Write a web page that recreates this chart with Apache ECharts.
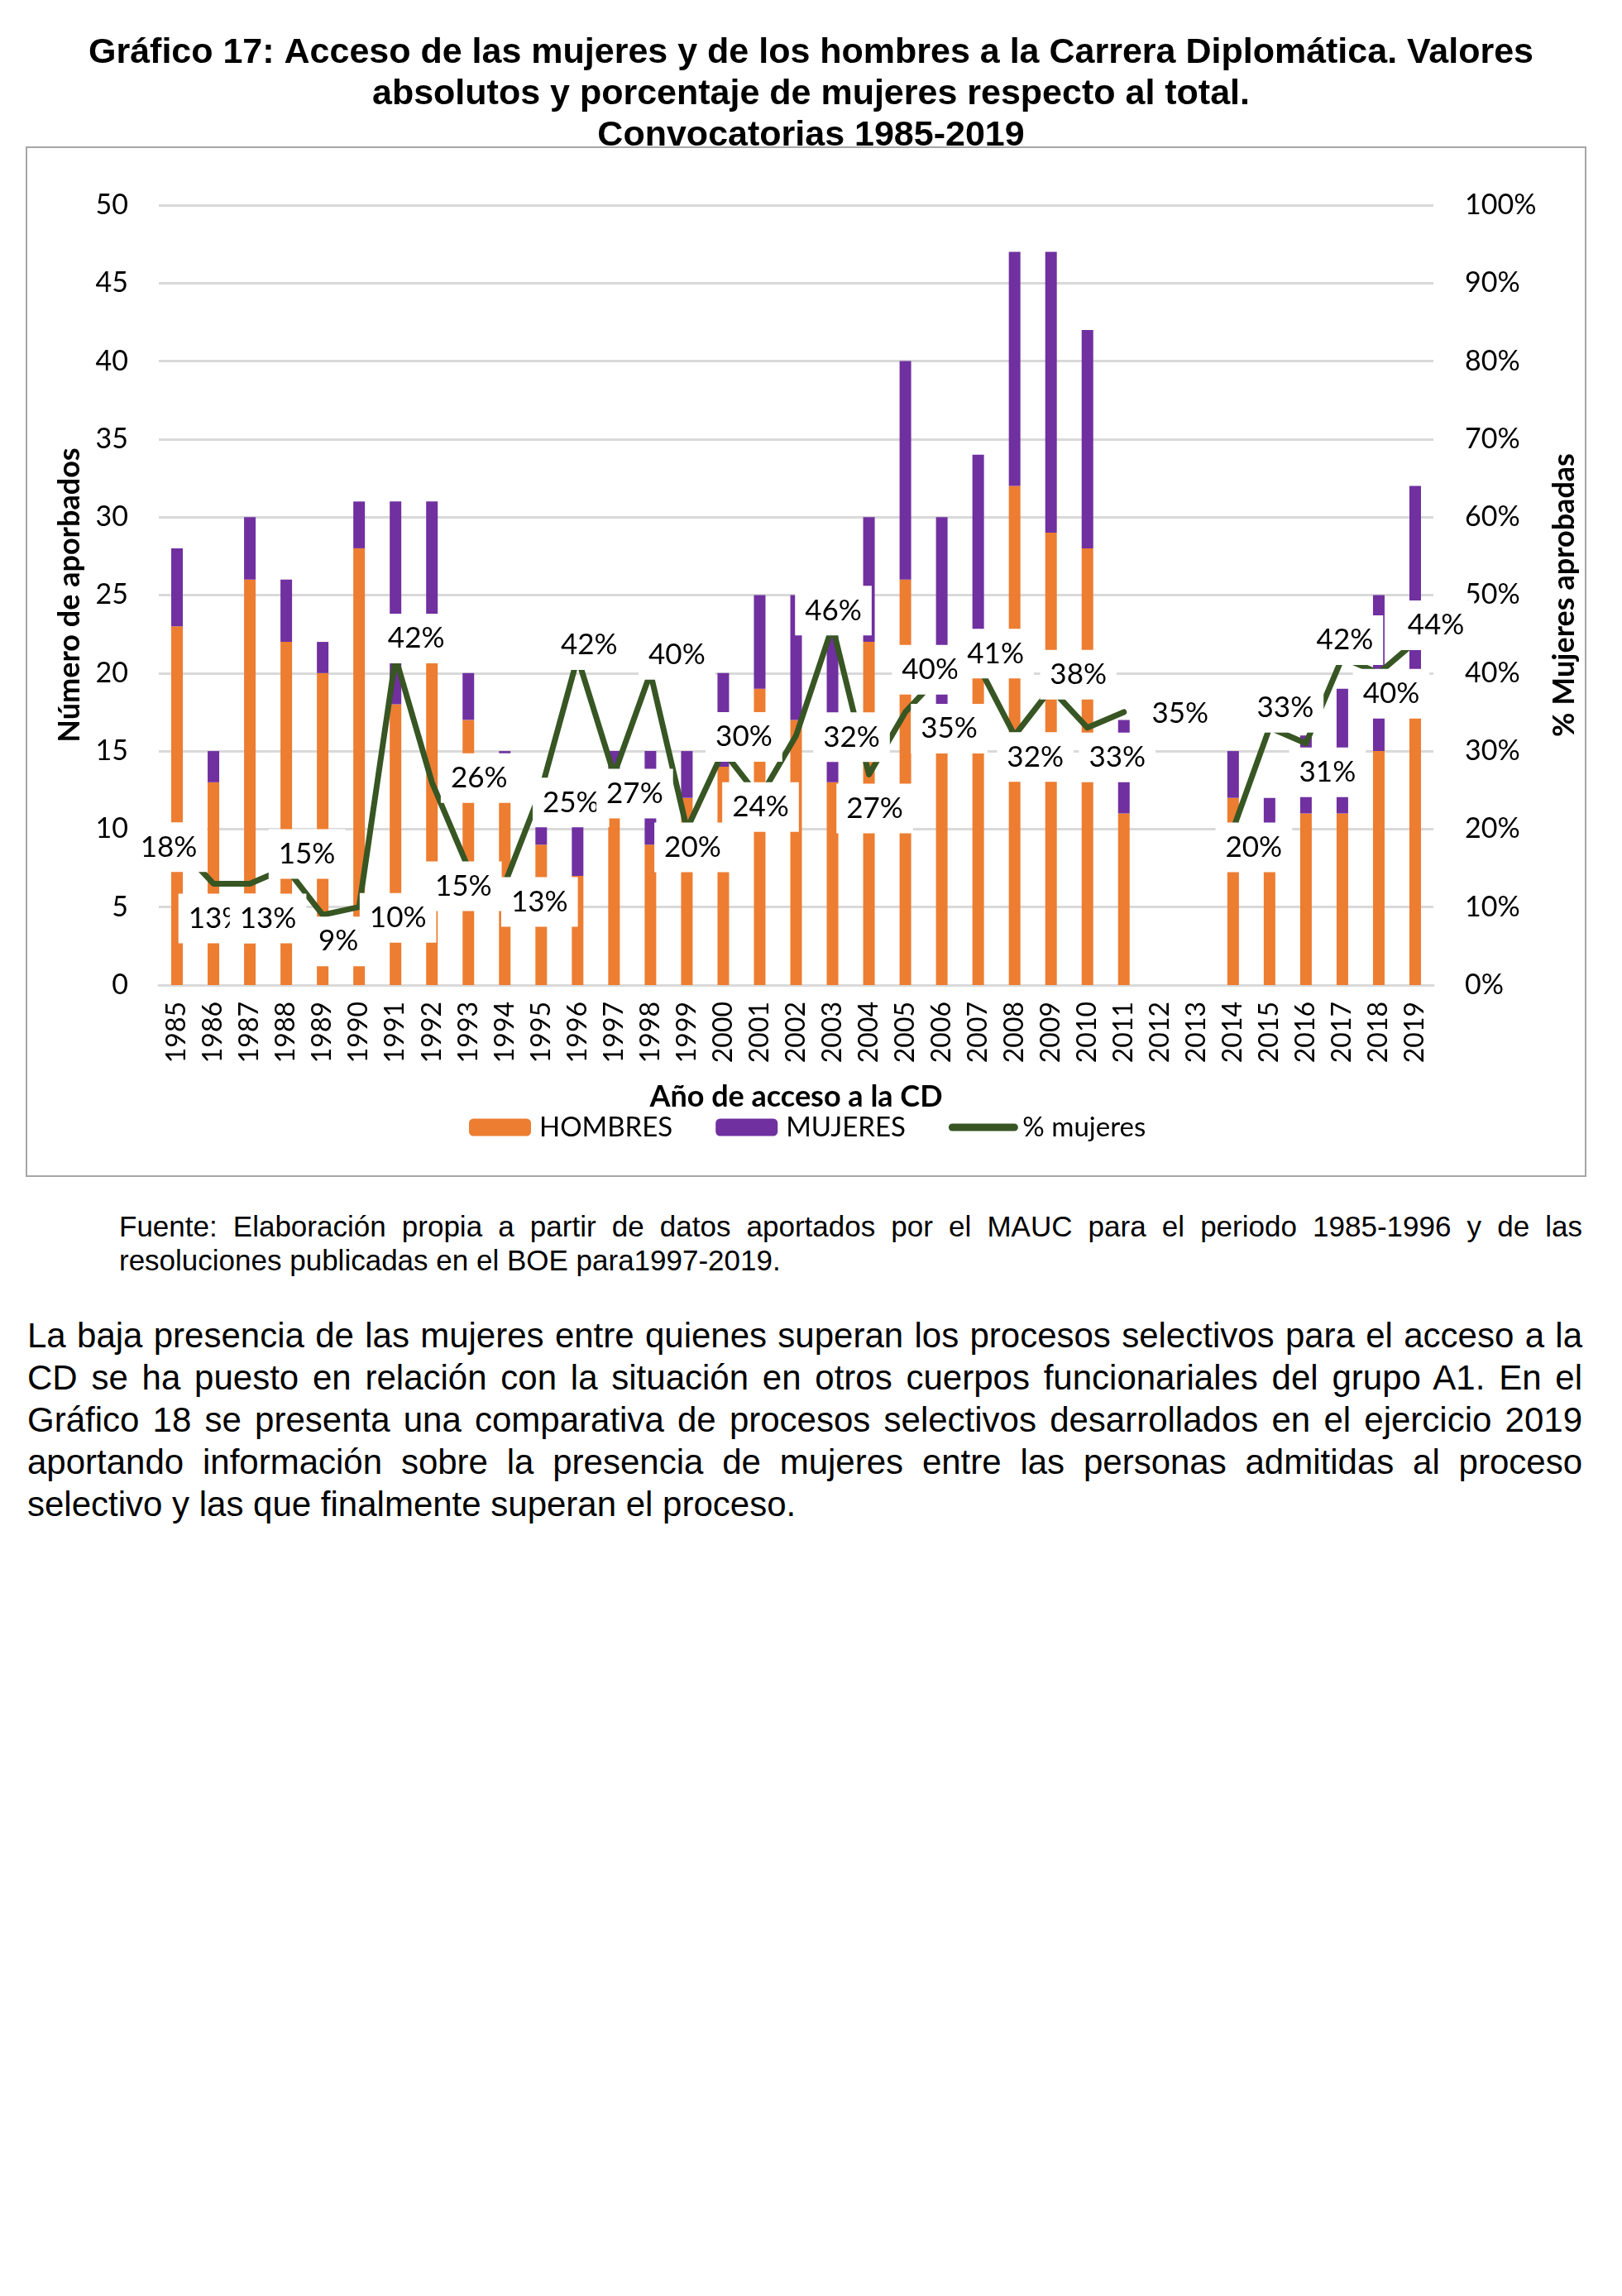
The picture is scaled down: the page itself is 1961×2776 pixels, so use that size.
<!DOCTYPE html>
<html><head><meta charset="utf-8">
<script src="https://cdn.jsdelivr.net/npm/echarts@6/dist/echarts.min.js"></script>
<style>
html,body{margin:0;padding:0;background:#fff;width:1961px;height:2776px;overflow:hidden;}
#chart{position:absolute;left:0;top:0;width:1961px;height:1450px;}
.txt{position:absolute;font-family:"Liberation Sans",Arial,sans-serif;color:#000;}
.j{text-align:justify;text-align-last:justify;}
.foot{left:144px;width:1769px;font-size:35px;line-height:40.7px;top:1463px;}
.para{left:33px;width:1880px;font-size:42px;line-height:51px;top:1589px;}
</style></head>
<body>
<div id="chart"></div>
<div class="txt foot">
<div class="j">Fuente: Elaboración propia a partir de datos aportados por el MAUC para el periodo 1985-1996 y de las</div>
<div>resoluciones publicadas en el BOE para1997-2019.</div>
</div>
<div class="txt para">
<div class="j">La baja presencia de las mujeres entre quienes superan los procesos selectivos para el acceso a la</div>
<div class="j">CD se ha puesto en relación con la situación en otros cuerpos funcionariales del grupo A1. En el</div>
<div class="j">Gráfico 18 se presenta una comparativa de procesos selectivos desarrollados en el ejercicio 2019</div>
<div class="j">aportando información sobre la presencia de mujeres entre las personas admitidas al proceso</div>
<div>selectivo y las que finalmente superan el proceso.</div>
</div>
<script>
const years = ['1985','1986','1987','1988','1989','1990','1991','1992','1993','1994','1995','1996','1997','1998','1999','2000','2001','2002','2003','2004','2005','2006','2007','2008','2009','2010','2011','2012','2013','2014','2015','2016','2017','2018','2019'];
const hombres = [23,13,26,22,20,28,18,23,17,13,9,7,11,9,12,14,19,17,13,22,26,18,20,32,29,28,11,null,null,12,8,11,11,15,18];
const mujeres = [5,2,4,4,2,3,13,8,3,2,3,5,4,6,3,6,6,8,11,8,14,12,14,15,18,14,6,null,null,3,4,5,8,10,14];
const pctMujeres = [18,13,13,15,9,10,42,26,15,13,25,42,27,40,20,30,24,32,46,27,35,40,41,32,38,33,35,null,null,20,33,31,42,40,44];
const titleLines = [
  'Gráfico 17: Acceso de las mujeres y de los hombres a la Carrera Diplomática. Valores',
  'absolutos y porcentaje de mujeres respecto al total.',
  'Convocatorias 1985-2019'
];
// label placement (style only)
const labelOffsets = [[-10,3],[4,42],[22,42],[25,-17],[19,32],[47,13],[25,-23],[57,-5],[-6,22],[42,22],[36,15],[14,-15],[25,23],[32,-22],[7,22],[25,-17],[1,11],[67,2],[1,-19],[7,41],[53,20],[-14,-4],[21,-14],[25,26],[33,-17],[36,36],[68,2],null,null,[25,22],[19,-24],[26,35],[3,-21],[15,25],[25,-20]];

const font = 'Lato, "Open Sans", sans-serif';
const chart = echarts.init(document.getElementById('chart'));
const lineData = pctMujeres.map((v, i) => v == null ? null : { value: v, label: { offset: labelOffsets[i] } });

const option = {
  animation: false,
  graphic: [
    { type: 'rect', silent: true, shape: { x: 32, y: 178, width: 1885, height: 1244 }, style: { fill: 'none', stroke: '#A6A6A6', lineWidth: 2 } }
  ].concat(titleLines.map((t, i) => ({
    type: 'text', silent: true, x: 980.5, y: 64.5 + i * 50,
    style: { text: t, fill: '#000', font: 'bold 43px "Liberation Sans", Arial, sans-serif', textAlign: 'center', textVerticalAlign: 'middle' }
  }))),
  legend: {
    left: 567, top: 1345, padding: 0,
    itemWidth: 75, itemHeight: 21, itemGap: 52,
    textStyle: { fontSize: 33, fontFamily: font, color: '#000', padding: [0, 0, 0, 5], lineHeight: 36 },
    data: ['HOMBRES', 'MUJERES', { name: '% mujeres', itemStyle: { opacity: 0 }, lineStyle: { width: 9, color: '#375623', cap: 'round' } }]
  },
  grid: { left: 192, right: 228, top: 248, bottom: 259 },
  xAxis: {
    type: 'category', data: years,
    axisLine: { lineStyle: { color: '#D9D9D9', width: 3 } },
    axisTick: { show: false },
    axisLabel: { rotate: 90, interval: 0, fontSize: 32, fontFamily: font, color: '#000', margin: 20 },
    name: 'Año de acceso a la CD', nameLocation: 'middle', nameGap: 117,
    nameTextStyle: { fontSize: 36, fontWeight: 'bold', fontFamily: font, color: '#000' }
  },
  yAxis: [
    {
      type: 'value', min: 0, max: 50, interval: 5,
      axisLine: { show: false }, axisTick: { show: false },
      axisLabel: { fontSize: 34, fontFamily: font, color: '#000', margin: 37 },
      splitLine: { lineStyle: { color: '#D9D9D9', width: 3 } },
      name: 'Número de aporbados', nameLocation: 'middle', nameGap: 90, nameRotate: 90,
      nameTextStyle: { fontSize: 36, fontWeight: 'bold', fontFamily: font, color: '#000' }
    },
    {
      type: 'value', min: 0, max: 100, interval: 10, position: 'right',
      axisLine: { show: false }, axisTick: { show: false },
      axisLabel: { fontSize: 34, fontFamily: font, color: '#000', margin: 38, formatter: '{value}%' },
      splitLine: { show: false },
      name: '% Mujeres aprobadas', nameLocation: 'middle', nameGap: 140, nameRotate: 90,
      nameTextStyle: { fontSize: 36, fontWeight: 'bold', fontFamily: font, color: '#000' }
    }
  ],
  series: [
    { name: 'HOMBRES', type: 'bar', stack: 'total', barWidth: 14, data: hombres, itemStyle: { color: '#ED7D31' }, emphasis: { disabled: true } },
    { name: 'MUJERES', type: 'bar', stack: 'total', barWidth: 14, data: mujeres, itemStyle: { color: '#7030A0' }, emphasis: { disabled: true } },
    {
      name: '% mujeres', type: 'line', yAxisIndex: 1, data: lineData, connectNulls: false,
      symbol: 'circle', symbolSize: 2, showSymbol: true,
      itemStyle: { color: '#375623' },
      lineStyle: { color: '#375623', width: 7, cap: 'round', join: 'round' },
      label: {
        show: true, position: 'inside', formatter: p => p.value + '%',
        fontSize: 35, fontFamily: font, color: '#000', backgroundColor: '#fff',
        padding: [9, 12], lineHeight: 42
      },
      emphasis: { disabled: true }, z: 5
    }
  ]
};
chart.setOption(option);
</script>
</body></html>
